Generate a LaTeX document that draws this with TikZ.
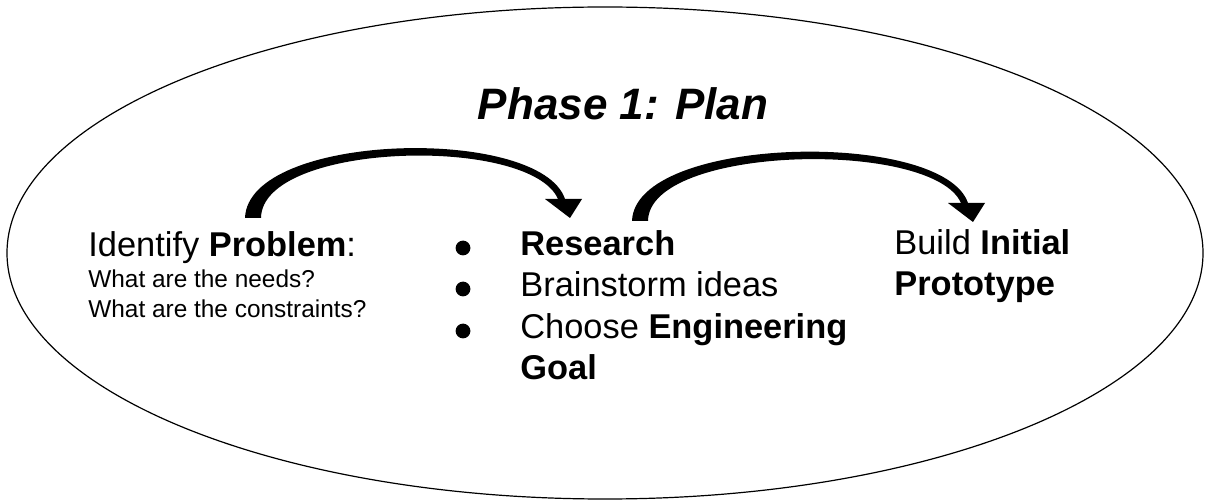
\documentclass[tikz,border=0pt]{standalone}
\usepackage{fontspec}
\setmainfont{Liberation Sans}
\usetikzlibrary{calc}

% curved tapering arrow from #1 (foot) to #2 (tip)
\newcommand{\bendarrow}[2]{%
\fill [black] ($(#1)+(-8,0)$) .. controls ($(#1)+(-5,-86)$) and ($(#2)+(-30,-93)$) .. ($(#2)+(-5,-19)$)
 -- ($(#2)+(12,-19)$) -- (#2) -- ($(#2)+(-25,-19)$) -- ($(#2)+(-12,-19)$)
 .. controls ($(#2)+(-40,-83)$) and ($(#1)+(9,-76)$) .. ($(#1)+(8,0)$) -- cycle;}

\begin{document}
\begin{tikzpicture}[x=0.5pt,y=-0.5pt]
\tikzstyle{every node}+=[inner sep=0pt]
\tikzstyle{body}=[anchor=base west, font=\fontsize{17.2}{21}\selectfont]
\tikzstyle{small}=[anchor=base west, font=\fontsize{12.2}{14}\selectfont]
\tikzstyle{dot}=[circle, fill=black, minimum size=7.4pt]
\useasboundingbox (0,0) rectangle (1206,502);
\draw [black, line width=0.6pt] (605,253) ellipse [x radius=598, y radius=246];
\node [anchor=base, font=\fontsize{22}{26}\selectfont\bfseries\itshape] (phase) at (623,120) {Phase 1: Plan};
% left column
\node [body] (identify) at (88,257) {Identify \textbf{Problem}:};
\node [small] (needs) at (88,288) {What are the needs?};
\node [small] (constraints) at (88,318) {What are the constraints?};
% middle column
\foreach \y/\n in {248/1,289/2,331/3}
  \node [dot] (dot\n) at (463,\y) {};
\node [body] (research) at (520,256) {\textbf{Research}};
\node [body] (brainstorm) at (520,297) {Brainstorm ideas};
\node [body] (choose) at (520,339) {Choose \textbf{Engineering}};
\node [body] (goal) at (520,380) {\textbf{Goal}};
% right column
\node [body] (build) at (894,255) {Build \textbf{Initial}};
\node [body] (prototype) at (894,296) {\textbf{Prototype}};
% arrows
\coordinate (foot1) at (253,218);
\coordinate (tip1) at (570,218);
\coordinate (foot2) at (640,221);
\coordinate (tip2) at (973,222);
\bendarrow{foot1}{tip1}
\bendarrow{foot2}{tip2}
\end{tikzpicture}
\end{document}
